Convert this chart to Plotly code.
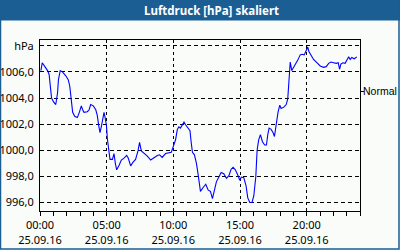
import plotly.graph_objects as go

# ---- data ----
day = "2016-09-25"
times = ["00:04","00:10","00:22","00:34","00:41","00:46","00:52","01:01","01:11","01:19",
         "01:23","01:31","01:41","01:56","02:07","02:14","02:21","02:27","02:36","02:48",
         "02:57","03:06","03:12","03:18","03:33","03:41","03:48","04:00","04:11","04:18",
         "04:24","04:30","04:36","04:42","04:48","04:53","04:59","05:03","05:09","05:15",
         "05:26","05:33","05:39","05:45","05:56","06:06","06:18","06:30","06:37","06:48",
         "06:57","07:10","07:21","07:28","07:36","07:48","08:03","08:18","08:33","08:48",
         "08:58","09:10","09:25","09:40","09:51","10:00","10:10","10:18","10:25","10:32",
         "10:40","10:48","10:55","11:06","11:15","11:20","11:26","11:35","11:44","11:52",
         "11:56","12:02","12:14","12:26","12:37","12:47","12:56","13:05","13:14","13:25",
         "13:35","13:47","13:59","14:10","14:20","14:29","14:39","14:50","14:59","15:06",
         "15:17","15:27","15:35","15:44","15:54","16:02","16:11","16:17","16:24","16:32",
         "16:41","16:51","16:59","17:05","17:11","17:20","17:29","17:35","17:43","17:51",
         "17:59","18:05","18:17","18:28","18:35","18:39","18:44","18:46","18:53","18:58",
         "19:09","19:20","19:31","19:40","19:49","19:58","20:05","20:10","20:19","20:31",
         "20:46","21:01","21:16","21:28","21:39","21:49","22:01","22:13","22:22","22:28",
         "22:34","22:43","22:53","23:01","23:09","23:16","23:23","23:34","23:46"]
pressure = [1006.1,1006.7,1006.4,1006.1,1005.8,1004.9,1004.0,1003.7,1003.5,1004.4,
            1005.4,1006.1,1006.0,1005.7,1005.4,1004.9,1003.9,1002.9,1002.6,1002.5,
            1002.9,1003.4,1003.1,1002.9,1002.95,1003.1,1003.5,1003.4,1003.1,1002.65,
            1001.9,1001.35,1001.8,1002.3,1002.9,1002.5,1001.9,1000.9,999.9,999.3,
            999.3,999.75,999.0,998.5,998.85,999.25,999.4,999.6,999.4,998.8,
            999.05,999.3,999.95,1000.6,999.95,999.8,999.55,999.25,999.45,999.6,
            999.65,999.45,999.75,999.8,999.85,1000.3,1000.8,1001.6,1001.8,1001.7,
            1001.95,1002.15,1001.95,1001.7,1001.5,1000.65,999.85,999.65,999.0,998.1,
            997.4,996.85,997.15,997.4,996.95,996.85,996.3,997.0,997.6,997.95,
            998.3,998.2,997.85,998.05,998.55,998.7,998.5,998.1,997.7,997.95,
            997.9,997.3,996.35,996.0,996.0,996.5,997.95,1000.0,1000.8,1001.2,
            1000.65,1000.4,1000.4,1001.2,1001.7,1001.6,1001.35,1001.05,1002.1,1002.9,
            1003.45,1003.2,1003.3,1003.5,1003.95,1005.1,1006.1,1006.75,1006.1,1006.25,
            1006.5,1006.9,1007.3,1007.35,1007.3,1007.6,1007.9,1007.55,1007.3,1006.95,
            1006.7,1006.45,1006.35,1006.4,1006.65,1006.75,1006.7,1006.65,1006.7,1006.2,
            1006.6,1006.7,1006.65,1006.95,1007.15,1006.95,1007.1,1007.0,1007.15]
y_ticks = [996, 998, 1000, 1002, 1004, 1006, 1008]
y_ticktext = [f"{v:.1f}".replace(".", ",") for v in y_ticks[:-1]] + ["hPa"]
normal_value = [1004.5]
normal_label = ["Normal"]
title = "Luftdruck [hPa] skaliert"

x = [f"{day} {t}" for t in times]

W, H = 400, 250
L, R, T, B = 40, 40, 40, 39
pw, ph = W - L - R, H - T - B
def px(xp): return (xp - L) / pw
def py(yp): return (H - B - yp) / ph

BLUE = "#1b5e94"
BG = "#f9fcf9"
FONT = "Noto Sans, DejaVu Sans, sans-serif"

fig = go.Figure()
fig.add_trace(go.Scatter(x=x, y=pressure, mode="lines",
                         line=dict(color="#0000ff", width=1.1), showlegend=False,
                         hoverinfo="skip"))
# invisible trace for right axis
fig.add_trace(go.Scatter(x=[x[0]], y=normal_value, yaxis="y2", mode="markers",
                         marker=dict(opacity=0), showlegend=False, hoverinfo="skip"))

fig.update_layout(
    width=W, height=H,
    margin=dict(l=L, r=R, t=T, b=B, pad=0, autoexpand=False),
    paper_bgcolor=BG, plot_bgcolor=BG,
    separators=",.",
    font=dict(family=FONT, size=11, color="black"),
    xaxis=dict(
        type="date",
        range=[f"{day} 00:00", "2016-09-26 00:00"],
        tick0=f"{day} 00:00", dtick=5 * 3600000,
        tickformat="%H:%M<br>%d.%m.%y",
        ticks="outside", ticklen=4, tickcolor="black",
        automargin=False,
        showline=True, linecolor="black", linewidth=1, mirror=True,
        showgrid=True, gridcolor="black", gridwidth=1, griddash="3px,3px",
        minor=dict(dtick=3600000, ticks="outside", ticklen=4, tickcolor="black",
                   showgrid=False),
        zeroline=False, fixedrange=True,
    ),
    yaxis=dict(
        range=[995.35, 1008.44],
        tickvals=y_ticks, ticktext=y_ticktext,
        ticks="outside", ticklen=3, tickcolor="rgba(0,0,0,0)",
        automargin=False,
        showline=True, linecolor="black", linewidth=1, mirror=True,
        showgrid=True, gridcolor="black", gridwidth=1, griddash="4px,3px",
        zeroline=False, fixedrange=True,
    ),
    yaxis2=dict(
        overlaying="y", side="right", range=[995.35, 1008.44],
        tickvals=normal_value, ticktext=[""],
        ticks="outside", ticklen=3, tickcolor="black",
        automargin=False,
        showgrid=False, showline=False, zeroline=False, fixedrange=True,
    ),
    shapes=[
        dict(type="rect", xref="paper", yref="paper",
             x0=px(0), x1=px(W), y0=py(20.5), y1=py(0),
             fillcolor=BLUE, line=dict(width=0), layer="above"),
        dict(type="rect", xref="paper", yref="paper",
             x0=px(0.5), x1=px(W - 1), y0=py(H - 1), y1=py(0.5),
             fillcolor="rgba(0,0,0,0)", line=dict(color=BLUE, width=1.5), layer="above"),
    ],
    annotations=[
        dict(text=f"<b>{title}</b>", xref="paper", yref="paper",
             x=px(211), y=py(10.5), xanchor="center", yanchor="middle",
             showarrow=False, font=dict(family=FONT, size=11.5, color="white")),
        dict(text=normal_label[0], xref="paper", yref="y",
             x=1, y=normal_value[0], xanchor="left", yanchor="middle",
             xshift=2, showarrow=False, borderpad=0,
             font=dict(family="Liberation Sans, Arial, sans-serif", size=10.5,
                       color="black")),
    ],
)

fig.write_html("out.html")
